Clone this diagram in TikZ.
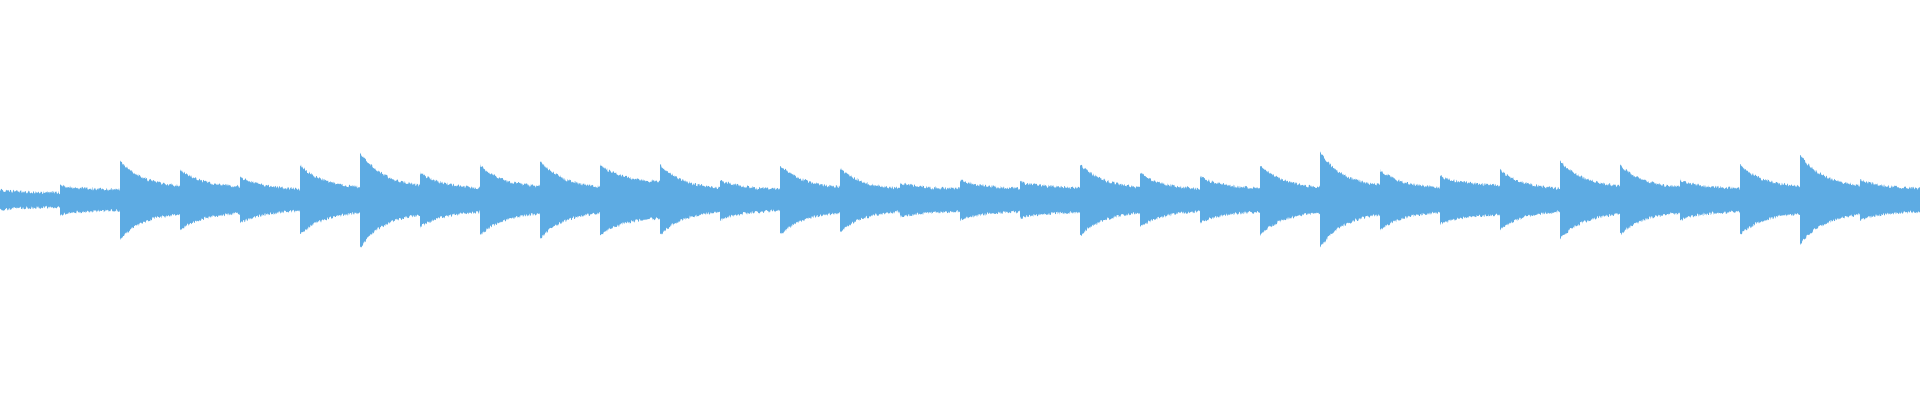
\documentclass[tikz,border=0pt]{standalone}
\definecolor{wave}{HTML}{5DABE3}
\begin{document}
\begin{tikzpicture}[x=1pt,y=1pt]
\useasboundingbox (0,-200) rectangle (1920,200);
\pgfmathsetseed{7}
\foreach \p/\s [count=\i from 0] in {8/5,13/8,37/10,28/10,21/8,33/9,46/10,25/9,33/10,37/9,33/15,33/8,18/8,33/9,30/8,15/9,18/9,16/10,34/9,25/8,21/9,33/9,46/10,28/9,22/12,28/8,37/10,33/9,18/9,33/10,43/10,18/9}{
  \pgfmathsetmacro{\xo}{\i*60}
  \fill[wave] (\xo,0) -- plot[domain=0:60,samples=120] ({\xo+\x},{\s+(\p-\s)*exp(-\x/24)+3.5*rnd})
    -- plot[domain=60:0,samples=120] ({\xo+\x},{-\s-(\p-\s)*exp(-\x/24)-3.5*rnd}) -- cycle;
}
\end{tikzpicture}
\end{document}
